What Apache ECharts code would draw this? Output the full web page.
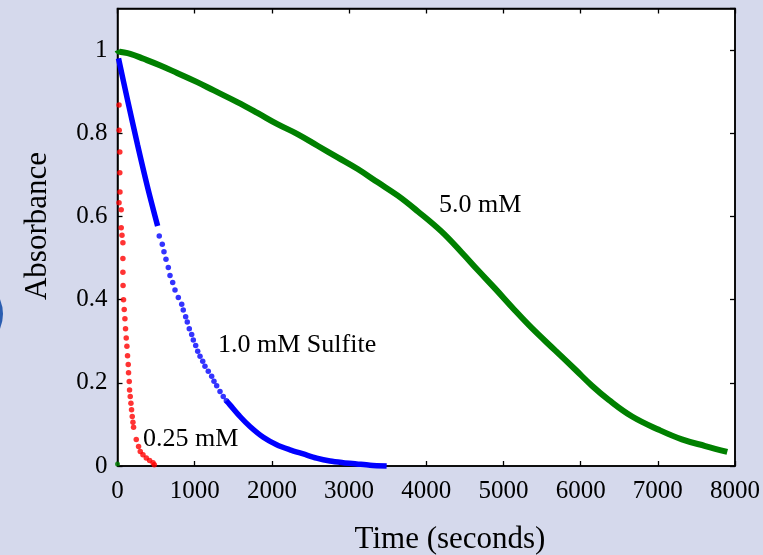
<!DOCTYPE html>
<html>
<head>
<meta charset="utf-8">
<title>Absorbance vs time</title>
<script src="https://cdn.jsdelivr.net/npm/echarts@6/dist/echarts.min.js"></script>
<style>
  html, body { margin: 0; padding: 0; background: #d5d9ec; }
  #chart { width: 763px; height: 555px; }
</style>
</head>
<body>
<div id="chart"></div>
<script>
// 0.25 mM sulfite (red dots)
const redTime = [20, 22, 30, 30, 32, 20, 48, 48, 58, 70, 70, 70, 72, 78, 87, 96, 104, 113, 122, 130,
  139, 143, 152, 156, 165, 174, 182, 191, 200, 208, 243, 273, 295, 330, 373, 416, 460, 477]
const redAbs = [0.868, 0.807, 0.755, 0.705, 0.659, 0.633, 0.616, 0.573, 0.555, 0.537, 0.499, 0.466, 0.434, 0.400, 0.376, 0.354, 0.330, 0.308, 0.288, 0.265,
  0.244, 0.224, 0.203, 0.183, 0.167, 0.151, 0.135, 0.119, 0.105, 0.093, 0.064, 0.047, 0.035, 0.027, 0.019, 0.013, 0.008, 0.003]

// 1.0 mM sulfite (blue): dense start, sparse middle, dense tail
const blueHeadTime = [13, 130, 260, 390, 520]
const blueHeadAbs = [0.980, 0.880, 0.772, 0.670, 0.577]
const blueMidTime = [541, 580, 602, 628, 658, 680, 715, 745, 788, 832, 852, 883, 904, 930, 961, 982,
  1013, 1039, 1069, 1104, 1133, 1176, 1220, 1250, 1285, 1328, 1370, 1410]
const blueMidAbs = [0.553, 0.533, 0.515, 0.497, 0.477, 0.458, 0.441, 0.423, 0.405, 0.389, 0.375, 0.359, 0.346, 0.330, 0.316, 0.303,
  0.290, 0.276, 0.264, 0.252, 0.240, 0.228, 0.216, 0.204, 0.193, 0.179, 0.167, 0.157]
const blueTailTime = [1410, 1457, 1587, 1716, 1889, 2062, 2234, 2407, 2580, 2753, 2925, 3098, 3271, 3487]
const blueTailAbs = [0.157, 0.147, 0.119, 0.095, 0.069, 0.051, 0.039, 0.029, 0.019, 0.012, 0.008, 0.005, 0.002, 0.000]

// 5.0 mM sulfite (green, dense)
const greenTime = [0, 13, 165, 338, 555, 772, 1032, 1248, 1552, 1812, 2072, 2332, 2592, 2852, 3112, 3372, 3632,
  3892, 4196, 4456, 4673, 4890, 5150, 5366, 5670, 5930, 6147, 6364, 6667, 7014, 7312, 7615, 7900]
const greenAbs = [1.000, 0.997, 0.991, 0.979, 0.963, 0.945, 0.923, 0.903, 0.875, 0.849, 0.822, 0.798, 0.770, 0.742, 0.714, 0.682, 0.650,
  0.612, 0.564, 0.514, 0.470, 0.427, 0.374, 0.332, 0.278, 0.232, 0.193, 0.159, 0.119, 0.087, 0.064, 0.048, 0.034]
const greenStray = [[0, 0.005]]

const xTicks = { min: 0, max: 8000, interval: 1000 }
const yTicks = { min: 0, max: 1.1, interval: 0.2 }

const pairs = (xs, ys) => xs.map((x, i) => [x, ys[i]])

const serif = 'Liberation Serif'
const RED = '#ff0000'
const BLUE = '#0000ff'
const GREEN = '#008000'

const chart = echarts.init(document.getElementById('chart'))

const tickStyle = { show: true, inside: true, length: 5, lineStyle: { color: '#000', width: 1.3 } }
const lineStyleAxis = { show: true, onZero: false, lineStyle: { color: '#000', width: 1.5 } }

chart.setOption({
  backgroundColor: '#d5d9ec',
  animation: false,
  grid: {
    left: 117.5, right: 28, top: 8.5, bottom: 89,
    show: true, backgroundColor: '#fff', borderColor: '#000', borderWidth: 1.5
  },
  xAxis: [
    {
      type: 'value', ...xTicks, position: 'bottom',
      axisLine: lineStyleAxis, axisTick: tickStyle, splitLine: { show: false },
      axisLabel: { color: '#000', fontFamily: serif, fontSize: 25, margin: 13, formatter: (v) => String(v) }
    },
    {
      type: 'value', ...xTicks, position: 'top',
      axisLine: lineStyleAxis, axisTick: tickStyle, splitLine: { show: false },
      axisLabel: { show: false }
    }
  ],
  yAxis: [
    {
      type: 'value', ...yTicks, position: 'left',
      axisLine: lineStyleAxis, axisTick: tickStyle, splitLine: { show: false },
      axisLabel: { color: '#000', fontFamily: serif, fontSize: 25, margin: 10, showMaxLabel: false, lineHeight: 31, verticalAlign: 'middle', padding: [8, 0, 0, 0] }
    },
    {
      type: 'value', ...yTicks, position: 'right',
      axisLine: lineStyleAxis, axisTick: tickStyle, splitLine: { show: false },
      axisLabel: { show: false }
    }
  ],
  series: [
    {
      name: '5.0 mM', type: 'line', data: pairs(greenTime, greenAbs),
      smooth: 0.4, showSymbol: false, clip: false,
      lineStyle: { color: GREEN, width: 6 }
    },
    {
      name: '5.0 mM start', type: 'scatter', data: greenStray,
      symbolSize: 5, itemStyle: { color: GREEN }
    },
    {
      name: '1.0 mM head', type: 'line', data: pairs(blueHeadTime, blueHeadAbs),
      smooth: 0.3, showSymbol: false, clip: false,
      lineStyle: { color: BLUE, width: 5.5 }
    },
    {
      name: '1.0 mM', type: 'scatter', data: pairs(blueMidTime, blueMidAbs),
      symbolSize: 5.5, itemStyle: { color: BLUE }
    },
    {
      name: '1.0 mM tail', type: 'line', data: pairs(blueTailTime, blueTailAbs),
      smooth: 0.3, showSymbol: false, clip: false,
      lineStyle: { color: BLUE, width: 5.5 }
    },
    {
      name: '0.25 mM', type: 'scatter', data: pairs(redTime, redAbs),
      symbolSize: 5.5, itemStyle: { color: RED }
    }
  ],
  graphic: [
    {
      type: 'circle', z: -1, shape: { cx: -35, cy: 314, r: 38 },
      style: { fill: '#2a5db0' }
    },
    {
      type: 'text', x: 450, y: 540,
      style: { text: 'Time (seconds)', font: '31px "Liberation Serif"', fill: '#000', textAlign: 'center', textVerticalAlign: 'middle' }
    },
    {
      type: 'text', x: 37.5, y: 226, rotation: Math.PI / 2,
      style: { text: 'Absorbance', font: '31px "Liberation Serif"', fill: '#000', textAlign: 'center', textVerticalAlign: 'middle' }
    },
    {
      type: 'text', x: 439, y: 205,
      style: { text: '5.0 mM', font: '26px "Liberation Serif"', fill: '#000', textAlign: 'left', textVerticalAlign: 'middle' }
    },
    {
      type: 'text', x: 218, y: 345,
      style: { text: '1.0 mM Sulfite', font: '26px "Liberation Serif"', fill: '#000', textAlign: 'left', textVerticalAlign: 'middle' }
    },
    {
      type: 'text', x: 143, y: 439,
      style: { text: '0.25 mM', font: '26px "Liberation Serif"', fill: '#000', textAlign: 'left', textVerticalAlign: 'middle' }
    }
  ]
})
</script>
</body>
</html>
